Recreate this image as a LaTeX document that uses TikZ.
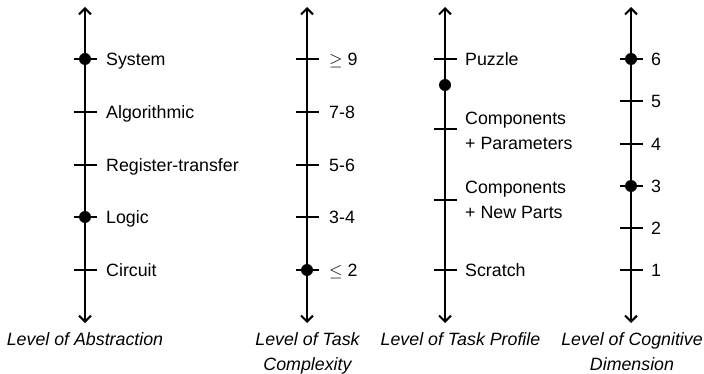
\documentclass[tikz,border=0pt]{standalone}
\usepackage{fontspec}
\setmainfont{Liberation Sans}
\usetikzlibrary{arrows.meta}
\begin{document}
\begin{tikzpicture}[x=1pt,y=-1pt,
  axis/.style={line width=2pt,{Straight Barb[length=6pt,width=12pt]}-{Straight Barb[length=6pt,width=12pt]}},
  tickline/.style={line width=2.5pt},
  dotfill/.style={fill=black},
  lbl/.style={anchor=west,inner sep=0pt,font=\fontsize{17.8}{25}\selectfont,text height=12.7pt,text depth=0pt},
  lbltwo/.style={anchor=west,inner sep=0pt,align=left,font=\fontsize{17.8}{25}\selectfont},
  axcap/.style={anchor=north,inner sep=0pt,align=center,font=\fontsize{17.8}{25.5}\selectfont\itshape}]
\useasboundingbox (0,0) rectangle (704,374);
% axis 1
\coordinate (t1) at (85,7); \coordinate (b1) at (85,323);
\draw[axis] (b1) -- (t1);
\foreach \n/\y in {a/59,b/112,c/165,d/217,e/270}{
  \coordinate (A\n) at (85,\y);
  \draw[tickline] (A\n) ++(-11.5,0) -- ++(23,0);}
\fill[dotfill] (Aa) circle (6);
\fill[dotfill] (Ad) circle (6);
\node[lbl] (la) at (106,59) {System};
\node[lbl] (lb) at (106,112) {Algorithmic};
\node[lbl] (lc) at (106,165) {Register-transfer};
\node[lbl] (ld) at (106,217) {Logic};
\node[lbl] (le) at (106,270) {Circuit};
\node[axcap] (c1) at (85,332) {Level of Abstraction};
% axis 2
\coordinate (t2) at (307,7); \coordinate (b2) at (307,323);
\draw[axis] (b2) -- (t2);
\foreach \n/\y in {a/59,b/112,c/165,d/217,e/270}{
  \coordinate (B\n) at (307,\y);
  \draw[tickline] (B\n) ++(-11.5,0) -- ++(23,0);}
\fill[dotfill] (Be) circle (6);
\node[lbl] (ma) at (329,59) {$\geq$ 9};
\node[lbl] (mb) at (329,112) {7-8};
\node[lbl] (mc) at (329,165) {5-6};
\node[lbl] (md) at (329,217) {3-4};
\node[lbl] (me) at (329,270) {$\leq$ 2};
\node[axcap] (c2) at (307.5,332) {Level of Task\\Complexity};
% axis 3
\coordinate (t3) at (445,7); \coordinate (b3) at (445,323);
\draw[axis] (b3) -- (t3);
\foreach \n/\y in {a/59,b/129,c/200,d/270}{
  \coordinate (C\n) at (445,\y);
  \draw[tickline] (C\n) ++(-11.5,0) -- ++(23,0);}
\coordinate (Cdot) at (445,85);
\fill[dotfill] (Cdot) circle (6);
\node[lbl] (na) at (465,59) {Puzzle};
\node[lbltwo] (nb) at (465,130.5) {Components\\+ Parameters};
\node[lbltwo] (nc) at (465,200) {Components\\+ New Parts};
\node[lbl] (nd) at (465,270) {Scratch};
\node[axcap] (c3) at (460.5,332) {Level of Task Profile};
% axis 4
\coordinate (t4) at (631,7); \coordinate (b4) at (631,323);
\draw[axis] (b4) -- (t4);
\foreach \n/\y in {6/59,5/101,4/144,3/186,2/228,1/270}{
  \coordinate (D\n) at (631,\y);
  \draw[tickline] (D\n) ++(-11.5,0) -- ++(23,0);
  \node[lbl] (o\n) at (651,\y) {\n};}
\fill[dotfill] (D6) circle (6);
\fill[dotfill] (D3) circle (6);
\node[axcap] (c4) at (632,332) {Level of Cognitive\\Dimension};
\end{tikzpicture}
\end{document}
